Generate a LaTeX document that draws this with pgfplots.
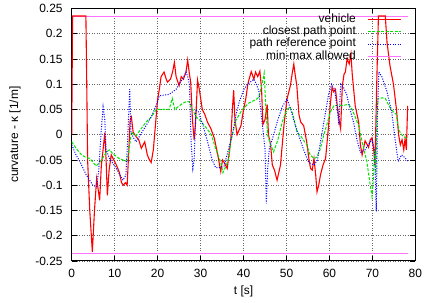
\documentclass[border=0pt]{standalone}
\usepackage{fontspec}
\setmainfont{Liberation Sans}
\usepackage{pgfplots}
\pgfplotsset{compat=1.18}
\definecolor{gpred}{rgb}{1,0,0}
\definecolor{gpgreen}{rgb}{0,0.9,0}
\definecolor{gpblue}{rgb}{0,0,1}
\definecolor{gpmag}{rgb}{1,0.45,1}
\begin{document}
\fontsize{12}{14}\selectfont
\begin{tikzpicture}
\begin{axis}[
  scale only axis, width=345pt, height=253.5pt,
  xmin=0, xmax=80, ymin=-0.25, ymax=0.25,
  xtick={0,10,20,30,40,50,60,70,80},
  xticklabels={0,10,20,30,40,50,60,70,80},
  ytick={-0.25,-0.2,-0.15,-0.1,-0.05,0,0.05,0.1,0.15,0.2,0.25},
  yticklabels={-0.25,-0.2,-0.15,-0.1,-0.05,0,0.05,0.1,0.15,0.2,0.25},
  grid=major,
  grid style={black!60, line width=0.5pt, dash pattern=on 1pt off 1.5pt},
  axis line style={line width=1pt},
  major tick length=5pt,
  tick style={black, line width=0.6pt},
  yticklabel style={xshift=-5pt},
  xticklabel style={yshift=-4pt},
  xlabel={t [s]},
  ylabel={curvature - κ [1/m]},
  xlabel style={at={(axis description cs:0.5,-0.1223)}, anchor=center},
  ylabel style={at={(axis description cs:-0.165,0.5)}, anchor=center},
  legend cell align=right,
  legend plot pos=right,
  legend image code/.code={\draw[#1] (0pt,0pt) -- (33pt,0pt);},
  legend style={draw=none, fill=none, inner sep=0pt, outer sep=0pt,
    at={(axis description cs:0.959,0.98)}, anchor=north east,
    row sep=0pt, column sep=11pt,
    nodes={inner sep=0.5pt, text height=8.3pt, text depth=3pt}},
]
\coordinate (O) at (rel axis cs:0,0);
\addplot[gpmag, line width=1pt, forget plot] coordinates {(0,0.235) (78.3,0.235)};
\addplot[gpmag, line width=1pt, forget plot] coordinates {(0,-0.235) (78.3,-0.235)};
\addplot[gpred, line width=1.1pt] coordinates {
(0,0.0) (0.2,0.235) (3.3,0.235) (3.5,0.1) (3.7,-0.05) (4.2,-0.15) (4.8,-0.232)
(5.3,-0.15) (5.8,-0.087) (6.1,-0.105) (6.5,-0.13) (6.9,-0.06) (7.3,-0.03)
(7.7,0.004) (8.0,-0.05) (8.3,-0.12) (8.7,-0.07) (9.2,-0.04) (9.8,-0.05)
(10.4,-0.06) (11.1,-0.075) (11.6,-0.095) (12.0,-0.1) (12.5,-0.095) (12.9,-0.1)
(13.3,-0.03) (13.6,0.03) (13.9,0.035) (14.3,0.005) (15.0,-0.004) (15.6,-0.01)
(16.2,-0.027) (17.0,-0.014) (17.6,-0.04) (18.1,-0.05) (18.5,-0.055) (19.0,-0.03)
(19.6,0.03) (20.0,0.07) (20.4,0.09) (20.8,0.115) (21.5,0.124) (22.0,0.11)
(22.3,0.104) (23.0,0.11) (23.5,0.125) (23.9,0.143) (24.3,0.115) (25.0,0.097)
(25.5,0.115) (26.0,0.11) (26.6,0.124) (27.0,0.148) (27.4,0.12) (27.7,0.104)
(28.1,0.03) (28.5,-0.01) (28.8,0.02) (29.3,0.108) (29.7,0.09) (30.4,0.05)
(31.0,0.04) (31.6,0.025) (32.4,0.012) (33.2,-0.007) (34.0,-0.04) (34.7,-0.073)
(35.1,-0.05) (35.5,-0.055) (36.2,-0.067) (36.6,-0.04) (37.0,-0.014) (37.4,0.05)
(37.7,0.088) (38.0,0.03) (38.5,0.0) (39.4,0.018) (40.0,0.05) (40.5,0.07)
(41.0,0.1) (41.3,0.11) (41.8,0.125) (42.4,0.11) (42.8,0.124) (43.3,0.115)
(43.8,0.126) (44.2,0.09) (44.5,0.02) (45.0,0.03) (45.5,0.06) (45.8,0.0)
(46.3,-0.02) (46.7,-0.06) (47.2,-0.07) (47.8,-0.09) (48.2,-0.075) (48.6,-0.06)
(49.4,0.018) (50.1,0.07) (50.9,0.097) (51.3,0.12) (51.7,0.14) (52.0,0.12)
(52.4,0.097) (52.9,0.04) (53.3,0.025) (54.0,0.018) (54.7,-0.014) (55.2,-0.047)
(55.6,-0.067) (56.0,-0.07) (56.4,-0.047) (56.8,-0.08) (57.1,-0.113) (57.5,-0.1)
(57.9,-0.08) (58.5,-0.06) (59.1,-0.047) (59.5,-0.01) (59.8,0.018) (60.2,0.06)
(60.6,0.094) (61.0,0.085) (61.4,0.09) (61.8,0.06) (62.2,0.031) (62.6,0.012)
(63.0,0.097) (63.4,0.12) (63.7,0.124) (64.1,0.15) (64.6,0.14) (65.0,0.16)
(65.3,0.12) (66.0,0.057) (66.8,0.025) (67.2,-0.02) (67.6,-0.04) (68.3,-0.012)
(69.1,-0.025) (69.5,-0.01) (69.9,-0.006) (70.3,-0.03) (70.6,-0.06) (71.0,0.1)
(71.4,0.235) (73.0,0.235) (73.4,0.183) (74.1,0.136) (74.9,0.1) (75.6,0.05)
(76.1,0.0) (76.5,-0.02) (76.9,-0.01) (77.3,-0.03) (77.6,-0.008) (77.9,-0.03)
(78.2,0.057)
};
\addlegendentry{vehicle}
\addplot[gpgreen, line width=1pt, dash pattern=on 3pt off 1.5pt] coordinates {
(0,-0.014) (1.1,-0.028) (2.3,-0.04) (3.3,-0.045) (4.2,-0.047) (5.0,-0.055)
(5.7,-0.062) (6.5,-0.055) (7.3,-0.045) (8.1,-0.034) (8.8,-0.03) (9.6,-0.038)
(10.4,-0.043) (11.2,-0.048) (11.9,-0.05) (12.5,-0.052) (13.0,-0.047) (13.5,-0.02)
(13.9,0.006) (14.5,0.0) (15.0,-0.002) (16.0,0.01) (17.3,0.025) (18.5,0.035)
(19.7,0.05) (21.0,0.05) (22.7,0.05) (23.4,0.072) (24.0,0.05) (25.0,0.057)
(25.8,0.062) (26.8,0.066) (27.4,0.065) (28.1,0.05) (29.0,0.035) (29.7,0.03)
(31.2,0.015) (32.5,0.0) (33.6,-0.03) (34.7,-0.055) (35.2,-0.075) (35.5,-0.07)
(36.0,-0.06) (36.6,-0.045) (37.0,-0.014) (37.4,0.0) (38.2,0.028) (39.7,0.05)
(41.3,0.063) (43.0,0.07) (43.6,0.075) (44.3,0.1) (44.8,0.122) (45.2,0.05)
(45.6,0.0) (46.3,-0.02) (47.0,-0.034) (48.0,-0.01) (49.0,0.025) (50.1,0.05)
(50.8,0.055) (51.5,0.04) (52.4,0.006) (53.5,-0.005) (54.7,-0.02) (55.5,-0.04)
(56.4,-0.047) (57.0,-0.045) (57.8,-0.03) (58.7,0.0) (59.4,0.02) (60.2,0.045)
(61.0,0.057) (62.0,0.058) (63.0,0.058) (64.5,0.06) (65.3,0.05) (66.0,0.035)
(66.8,0.018) (67.6,-0.014) (68.7,-0.053) (69.5,-0.1) (69.9,-0.122) (70.2,-0.09)
(70.5,-0.03) (70.8,-0.08) (71.0,0.03) (71.3,0.071) (72.2,0.073) (73.0,0.072)
(74.0,0.055) (74.9,0.045) (75.6,0.04) (76.1,0.01) (76.8,0.0) (77.5,-0.005)
(78.3,-0.008)
};
\addlegendentry{closest path point}
\addplot[gpblue, line width=1pt, dash pattern=on 1pt off 1.5pt] coordinates {
(0,-0.02) (1.0,-0.04) (1.9,-0.053) (3.4,-0.08) (4.9,-0.1) (5.8,-0.103)
(6.3,-0.07) (6.8,0.0) (7.3,0.055) (7.7,0.03) (8.0,-0.03) (8.8,-0.047)
(10.4,-0.067) (11.9,-0.09) (12.6,-0.08) (13.0,-0.013) (13.5,0.09) (13.8,0.006)
(14.3,-0.005) (15.0,-0.014) (16.0,0.0) (17.3,0.018) (18.5,0.035) (19.6,0.057)
(20.4,0.077) (22.7,0.08) (24.3,0.09) (25.0,0.1) (25.8,0.11) (26.6,0.124)
(27.0,0.115) (27.4,0.1) (27.8,-0.015) (28.2,-0.067) (28.5,-0.05) (28.9,0.05)
(29.5,0.045) (30.5,0.02) (31.5,-0.01) (32.7,-0.05) (33.5,-0.065) (34.5,-0.065)
(35.5,-0.062) (36.6,-0.025) (37.4,0.0) (38.2,0.038) (39.0,0.065) (40.1,0.09)
(41.0,0.1) (41.7,0.105) (42.4,0.11) (43.0,0.1) (43.6,0.085) (44.0,0.05)
(44.4,0.018) (45.0,-0.028) (45.3,-0.136) (45.6,-0.07) (46.0,-0.028) (47.0,0.0)
(48.0,0.03) (49.0,0.055) (50.1,0.071) (51.0,0.05) (52.0,0.02) (53.0,-0.005)
(54.0,-0.03) (55.2,-0.055) (56.4,-0.06) (57.2,-0.05) (58.2,0.0) (59.0,0.04)
(59.8,0.08) (60.5,0.1) (61.2,0.09) (61.8,0.05) (62.2,0.02) (62.6,0.1)
(63.2,0.095) (64.0,0.08) (64.8,0.05) (65.6,0.025) (66.4,-0.01) (67.2,-0.035)
(68.3,-0.03) (69.0,-0.02) (69.9,-0.01) (70.5,-0.03) (70.9,-0.152) (71.2,0.05)
(71.5,0.124) (72.2,0.115) (73.4,0.085) (74.5,0.045) (75.3,-0.01) (76.0,-0.053)
(76.8,-0.04) (77.5,-0.045) (78.3,-0.053)
};
\addlegendentry{path reference point}
\addlegendimage{gpmag, line width=1pt}
\addlegendentry{min-max allowed}
\end{axis}
\path (O) ++(-72pt,-42pt) rectangle ++(426pt,304pt);
\end{tikzpicture}
\end{document}
